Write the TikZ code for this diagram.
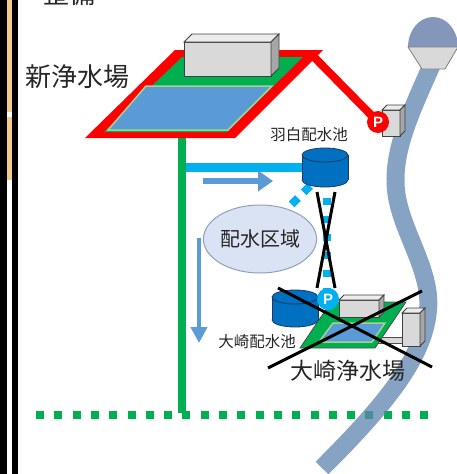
\documentclass[tikz,border=0pt]{standalone}
\usepackage{fontspec}
\newfontfamily\jp{Noto Sans CJK JP}
\newfontfamily\pf{Liberation Sans}
\usepackage{xcolor}
\usepackage{tikz}
\usetikzlibrary{arrows.meta}
\usetikzlibrary{shapes.geometric}

\definecolor{pipered}{RGB}{255,0,0}
\definecolor{pipegreen}{RGB}{0,176,80}
\definecolor{pipeblue}{RGB}{0,176,240}
\definecolor{poolblue}{RGB}{91,155,213}
\definecolor{poolrim}{RGB}{169,209,142}
\definecolor{tankblue}{RGB}{0,112,192}
\definecolor{tankedge}{RGB}{31,56,100}
\definecolor{housegray}{RGB}{217,217,217}
\definecolor{riverblue}{RGB}{95,132,176}
\definecolor{damtop}{RGB}{132,151,187}
\definecolor{zonefill}{RGB}{218,227,243}
\definecolor{zoneedge}{RGB}{143,160,190}
\definecolor{flowblue}{RGB}{91,155,213}
\definecolor{inktext}{RGB}{38,38,38}
\definecolor{edgetan}{RGB}{246,203,138}

% box: x, y, width, height, depth
\newcommand{\house}[5]{%
        \filldraw[draw=black!75, fill=housegray, line width=0.8pt] (#1,#2) rectangle ({#1+#3},{#2+#4});
        \filldraw[draw=black!75, fill=housegray!50, line width=0.8pt] (#1,#2) -- ({#1+#5},{#2-#5}) -- ({#1+#3+#5},{#2-#5}) -- ({#1+#3},#2) -- cycle;
        \filldraw[draw=black!75, fill=black!35, line width=0.8pt] ({#1+#3},#2) -- ({#1+#3+#5},{#2-#5}) -- ({#1+#3+#5},{#2+#4-#5}) -- ({#1+#3},{#2+#4}) -- cycle;
}
% tank: x, top, bottom, rx, ry
\newcommand{\tank}[5]{%
        \filldraw[draw=tankedge, fill=tankblue, line width=0.8pt] (#1,#3) ellipse (#4pt and #5pt);
        \fill[tankblue] ({#1-#4},#2) rectangle ({#1+#4},#3);
        \draw[tankedge, line width=0.8pt] ({#1-#4},#2) -- ({#1-#4},#3) ({#1+#4},#2) -- ({#1+#4},#3);
        \filldraw[draw=tankedge, fill=tankblue, line width=0.8pt] (#1,#2) ellipse (#4pt and #5pt);
}

\begin{document}
\begin{tikzpicture}[x=1pt, y=-1pt,
        jtext/.style={text=inktext, inner sep=0pt},
        redpipe/.style={pipered, line width=8pt},
        greenpipe/.style={pipegreen, line width=8pt},
        bluepipe/.style={pipeblue, line width=9pt},
        bluedots/.style={pipeblue, line width=8pt, dash pattern=on 9pt off 8pt},
        greendots/.style={pipegreen, line width=8pt, dash pattern=on 8pt off 10.3pt},
        flow/.style={flowblue, -{Triangle[length=15pt,width=20pt]}},
        xline/.style={black, line width=3pt},
        pump/.style={circle, inner sep=0pt, minimum size=22pt, text=white, font=\pf\bfseries\fontsize{15}{15}\selectfont},
        zone/.style={ellipse, draw=zoneedge, fill=zonefill, line width=1pt, minimum width=104pt, minimum height=68pt, inner sep=0pt, text=inktext, font=\jp\fontsize{20}{24}\selectfont}]
        \useasboundingbox (0,0) rectangle (457,474);
        \clip (0,0) rectangle (457,474);

        \fill[black] (0,0) rectangle (7,474);
        \fill[edgetan] (7,0) rectangle (12,112);
        \fill[edgetan] (7,117) rectangle (12,180);
        \fill[black] (12,0) rectangle (18,474);

        \node[jtext, anchor=base west, font=\jp\fontsize{26}{30}\selectfont] (head) at (43,3) {整備};

        \coordinate (plantfoot) at (182,134);
        \coordinate (mainend) at (182,413);
        \coordinate (tee) at (182,167);
        \coordinate (hane) at (325,167);
        \coordinate (plantcorner) at (313,56);
        \coordinate (pumpA) at (378,122);
        \coordinate (pumpB) at (328,299);

        \draw[greendots] (36,415) -- (430,415);

        % river and dam
        \draw[riverblue, opacity=0.75, line width=18pt] (433,62) .. controls (412,110) and (392,150) .. (396,190)
            .. controls (400,230) and (432,270) .. (428,310) .. controls (424,360) and (380,410) .. (322,468);
        \fill[damtop] (408,47) arc[start angle=180, end angle=0, x radius=25pt, y radius=30pt] -- cycle;
        \filldraw[fill=housegray, draw=black!50, line width=0.8pt] (408,47) -- (458,47) -- (445,69) -- (422,69) -- cycle;

        % new plant
        \draw[bluepipe] (tee) -- (hane);
        \draw[greenpipe] (plantfoot) -- (mainend);
        \fill[pipered] (85,138) -- (235,138) -- (323,50) -- (175,50) -- cycle;
        \fill[pipegreen] (104,132) -- (227,132) -- (303,57) -- (182,57) -- cycle;
        \filldraw[fill=poolblue, draw=poolrim, line width=1.5pt] (108,130) -- (228,130) -- (272,86) -- (146,86) -- cycle;
        \house{184}{42}{87}{34}{8}
        \draw[redpipe] (plantcorner) -- (pumpA);
        \house{382}{110}{18}{26}{5}
        \node[pump, fill=pipered] (redp) at (pumpA) {P};

        % Hanejiro
        \draw[bluedots] (310,186) -- (290,206);
        \draw[bluedots, dash pattern=on 7pt off 11pt] (327,180) -- (327,290);
        \tank{325}{155}{180}{23}{7}
        \node[jtext, font=\jp\fontsize{15.5}{18}\selectfont] (hanelabel) at (309,135) {羽白配水池};

        \node[zone] (area) at (260,239) {配水区域};
        \draw[flow, line width=6pt] (203,181) -- (273,181);
        \draw[flow, line width=4pt, -{Triangle[length=16pt,width=16pt]}] (199,238) -- (199,343);

        % Osaki
        \filldraw[fill=housegray, draw=black!70, line width=0.8pt] (378,337) rectangle (402,343);
        \filldraw[fill=pipegreen, draw=black!70, line width=0.8pt] (300,348) -- (375,348) -- (406,302) -- (331,302) -- cycle;
        \filldraw[fill=poolblue, draw=poolrim, line width=1.5pt] (319,342) -- (372,342) -- (385,323) -- (333,323) -- cycle;
        \house{339}{300}{40}{17}{5}
        \house{402}{313}{18}{33}{5}
        \tank{295}{297}{320}{23}{7}
        \draw[xline] (317,192) -- (335,288);
        \draw[xline] (335,192) -- (317,288);
        \node[pump, fill=pipeblue] (bluep) at (pumpB) {P};
        \draw[xline] (278,288) -- (432,367);
        \draw[xline] (268,368) -- (422,291);

        \node[jtext, font=\jp\fontsize{26}{30}\selectfont] (newplant) at (77,77) {新浄水場};
        \node[jtext, font=\jp\fontsize{15.5}{18}\selectfont] (osakilabel) at (257,342) {大崎配水池};
        \node[jtext, font=\jp\fontsize{23}{26}\selectfont] (osakiplant) at (348,371) {大崎浄水場};
\end{tikzpicture}
\end{document}
